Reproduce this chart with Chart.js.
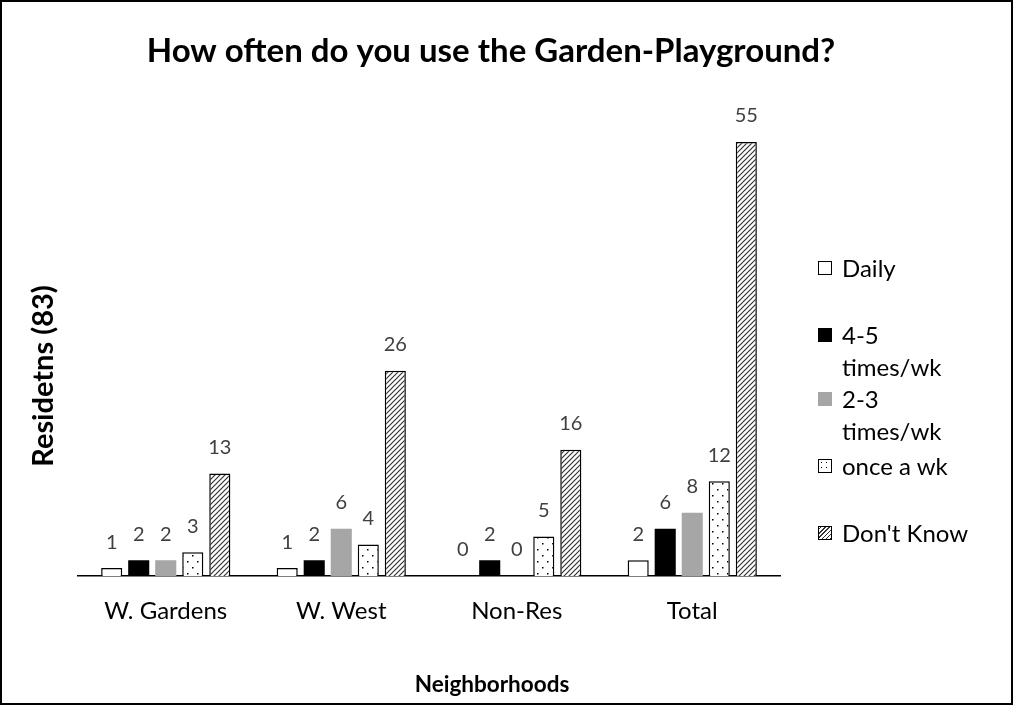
<!DOCTYPE html>
<html>
<head>
<meta charset="utf-8">
<script src="https://cdn.jsdelivr.net/npm/chart.js@4.4.0/dist/chart.umd.min.js"></script>
<style>
  html, body { margin: 0; padding: 0; background: #fff; }
  #wrap { position: relative; width: 1013px; height: 705px; }
  #frame { position: absolute; left: 0; top: 0; width: 1013px; height: 705px;
           box-sizing: border-box; border: 2px solid #000; pointer-events: none; }
  #legend { position: absolute; left: 818px; top: 0; font-family: Lato, sans-serif;
            font-size: 24px; color: #000; }
  .item { position: absolute; left: 0; white-space: nowrap; line-height: 32px; }
  .item .txt { position: absolute; left: 24px; top: 0; }
  .mk { position: absolute; left: 0; top: 9px; width: 14px; height: 14px; box-sizing: border-box; }
</style>
</head>
<body>
<div id="wrap">
  <canvas id="chart" width="1013" height="705"></canvas>
  <div id="legend"></div>
  <div id="frame"></div>
</div>
<script>
// ---- data ----
const categories = ['W. Gardens', 'W. West', 'Non-Res', 'Total'];
const seriesNames = ['Daily', '4-5 times/wk', '2-3 times/wk', 'once a wk', "Don't Know"];
const daily = [1, 1, 0, 2];
const fourFive = [2, 2, 2, 6];
const twoThree = [2, 6, 0, 8];
const onceAWeek = [3, 4, 5, 12];
const dontKnow = [13, 26, 16, 55];

const FONT = 'Lato, sans-serif';

// ---- fill patterns ----
function dotPattern() {
  const c = document.createElement('canvas');
  c.width = 10; c.height = 12;
  const g = c.getContext('2d');
  g.fillStyle = '#fff'; g.fillRect(0, 0, 10, 12);
  g.fillStyle = '#000';
  g.fillRect(2, 3, 1.5, 1.5);
  g.fillRect(7, 9, 1.5, 1.5);
  return g.createPattern(c, 'repeat');
}

function hatchPattern() {
  const c = document.createElement('canvas');
  c.width = 5; c.height = 5;
  const g = c.getContext('2d');
  g.fillStyle = '#fff'; g.fillRect(0, 0, 5, 5);
  g.strokeStyle = '#333'; g.lineWidth = 1.2;
  g.beginPath();
  g.moveTo(-1, 6); g.lineTo(6, -1);
  g.moveTo(-1, 1); g.lineTo(1, -1);
  g.moveTo(4, 6); g.lineTo(6, 4);
  g.stroke();
  return g.createPattern(c, 'repeat');
}

const dots = dotPattern();
const hatch = hatchPattern();

// draws the value above each bar
const valueLabels = {
  id: 'valueLabels',
  afterDatasetsDraw(chart) {
    const ctx = chart.ctx;
    ctx.save();
    ctx.font = '20px ' + FONT;
    ctx.fillStyle = '#404040';
    ctx.textAlign = 'center';
    ctx.textBaseline = 'middle';
    chart.data.datasets.forEach((ds, i) => {
      chart.getDatasetMeta(i).data.forEach((bar, j) => {
        ctx.fillText(String(ds.data[j]), bar.x, bar.y - 26);
      });
    });
    ctx.restore();
  }
};

// chart title and axis titles, centred like the original (over the whole frame)
const titles = {
  id: 'titles',
  afterDraw(chart) {
    const ctx = chart.ctx;
    ctx.save();
    ctx.fillStyle = '#000';
    ctx.textAlign = 'center';
    ctx.textBaseline = 'middle';
    ctx.font = 'bold 33px ' + FONT;
    ctx.fillText('How often do you use the Garden-Playground?', 491, 51);
    ctx.font = 'bold 22.5px ' + FONT;
    ctx.fillText('Neighborhoods', 492, 685);
    ctx.translate(53, 376);
    ctx.rotate(-Math.PI / 2);
    ctx.textBaseline = 'alphabetic';
    ctx.font = 'bold 29px ' + FONT;
    ctx.fillText('Residetns (83)', 0, 0);
    ctx.restore();
  }
};

const styles = [
  { backgroundColor: '#fff', borderColor: '#000', borderWidth: 1.5 },
  { backgroundColor: '#000', borderColor: '#000', borderWidth: 0 },
  { backgroundColor: '#a6a6a6', borderColor: '#a6a6a6', borderWidth: 0 },
  { backgroundColor: dots, borderColor: '#000', borderWidth: 1.5 },
  { backgroundColor: hatch, borderColor: '#000', borderWidth: 1.5 }
];

const values = [daily, fourFive, twoThree, onceAWeek, dontKnow];

new Chart(document.getElementById('chart'), {
  type: 'bar',
  data: {
    labels: categories,
    datasets: values.map((v, i) => Object.assign({
      label: seriesNames[i],
      data: v,
      borderSkipped: 'bottom',
      categoryPercentage: 0.77,
      barPercentage: 0.78
    }, styles[i]))
  },
  options: {
    responsive: false,
    animation: false,
    layout: { padding: { left: 0, right: 233, top: 102.5, bottom: 0 } },
    plugins: {
      legend: { display: false },
      tooltip: { enabled: false },
      title: { display: false }
    },
    scales: {
      x: {
        grid: { display: false, drawTicks: false },
        border: { display: true, color: '#000', width: 1.5 },
        ticks: { color: '#000', font: { family: FONT, size: 24, lineHeight: 1.2 }, padding: 21 },
        afterFit(scale) { scale.height = 129; }
      },
      y: {
        min: 0, max: 60,
        grid: { display: false, drawTicks: false },
        border: { display: false },
        ticks: { display: false },
        afterFit(scale) { scale.width = 78; }
      }
    }
  },
  plugins: [valueLabels, titles]
});

// ---- legend (HTML, multi-line entries as in the original) ----
const legendRows = [
  { lines: ['Daily'], top: 252, mk: 'background:#fff;border:1.5px solid #000;' },
  { lines: ['4-5', 'times/wk'], top: 319, mk: 'background:#000;' },
  { lines: ['2-3', 'times/wk'], top: 383, mk: 'background:#a6a6a6;' },
  { lines: ['once a wk'], top: 450, mk: 'border:1.5px solid #000;background:#fff radial-gradient(circle, #000 0.8px, transparent 1px) 0 0/5px 5px;' },
  { lines: ["Don't Know"], top: 517, mk: 'border:1.5px solid #000;background:repeating-linear-gradient(-45deg,#333 0 1px,#fff 1px 3px);' }
];
const legendEl = document.getElementById('legend');
legendRows.forEach(r => {
  const d = document.createElement('div');
  d.className = 'item';
  d.style.top = r.top + 'px';
  d.innerHTML = '<span class="mk" style="' + r.mk + '"></span><span class="txt">' + r.lines.join('<br>') + '</span>';
  legendEl.appendChild(d);
});
</script>
</body>
</html>
